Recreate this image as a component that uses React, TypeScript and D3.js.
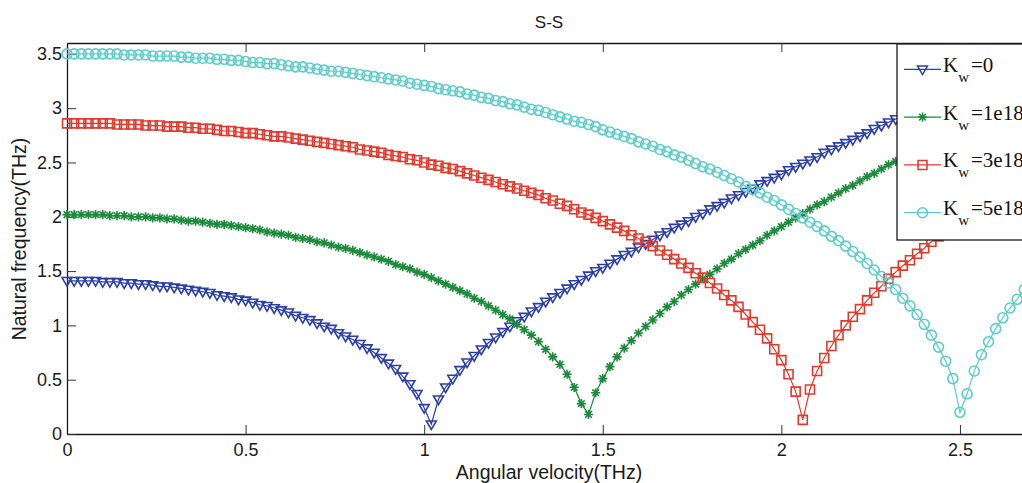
import React, { useEffect, useRef } from "react";
import * as d3 from "d3";

// angular velocity sampled every 0.02 THz starting at 0
const omegaStep = 0.02;

// natural frequency (THz), one array per Kw
const kw0 = [
  1.41, 1.41, 1.41, 1.41, 1.41, 1.40, 1.40, 1.40, 1.39, 1.39,
  1.38, 1.38, 1.37, 1.36, 1.36, 1.35, 1.34, 1.33, 1.32, 1.31,
  1.30, 1.28, 1.27, 1.26, 1.24, 1.23, 1.21, 1.19, 1.18, 1.16,
  1.14, 1.12, 1.09, 1.07, 1.05, 1.02, 0.99, 0.97, 0.93, 0.90,
  0.87, 0.83, 0.79, 0.75, 0.70, 0.65, 0.60, 0.53, 0.46, 0.37,
  0.24, 0.09, 0.32, 0.43, 0.51, 0.59, 0.66, 0.72, 0.78, 0.84,
  0.89, 0.94, 0.99, 1.04, 1.08, 1.13, 1.17, 1.22, 1.26, 1.30,
  1.34, 1.38, 1.42, 1.46, 1.50, 1.53, 1.57, 1.61, 1.65, 1.68,
  1.72, 1.75, 1.79, 1.83, 1.86, 1.90, 1.93, 1.96, 2.00, 2.03,
  2.07, 2.10, 2.13, 2.17, 2.20, 2.23, 2.26, 2.30, 2.33, 2.36,
  2.39, 2.43, 2.46, 2.49, 2.52, 2.55, 2.59, 2.62, 2.65, 2.68,
  2.71, 2.74, 2.77, 2.81, 2.84, 2.87, 2.90, 2.93, 2.96, 2.99,
  3.02,
];

const kw1e18 = [
  2.02, 2.02, 2.02, 2.02, 2.02, 2.02, 2.01, 2.01, 2.01, 2.00,
  2.00, 2.00, 1.99, 1.99, 1.98, 1.98, 1.97, 1.96, 1.96, 1.95,
  1.94, 1.93, 1.93, 1.92, 1.91, 1.90, 1.89, 1.88, 1.86, 1.85,
  1.84, 1.83, 1.81, 1.80, 1.79, 1.77, 1.76, 1.74, 1.72, 1.71,
  1.69, 1.67, 1.65, 1.63, 1.61, 1.59, 1.56, 1.54, 1.52, 1.49,
  1.47, 1.44, 1.41, 1.38, 1.35, 1.32, 1.29, 1.25, 1.22, 1.18,
  1.14, 1.10, 1.06, 1.01, 0.96, 0.91, 0.85, 0.78, 0.71, 0.64,
  0.55, 0.43, 0.28, 0.18, 0.38, 0.51, 0.62, 0.71, 0.79, 0.86,
  0.93, 0.99, 1.05, 1.11, 1.17, 1.22, 1.28, 1.33, 1.38, 1.43,
  1.47, 1.52, 1.57, 1.61, 1.66, 1.70, 1.74, 1.78, 1.83, 1.87,
  1.91, 1.95, 1.99, 2.03, 2.07, 2.11, 2.14, 2.18, 2.22, 2.26,
  2.29, 2.33, 2.37, 2.40, 2.44, 2.48, 2.51, 2.55, 2.58, 2.62,
  2.65, 2.69, 2.72, 2.76, 2.79, 2.83,
];

const kw3e18 = [
  2.86, 2.86, 2.86, 2.86, 2.86, 2.86, 2.86, 2.85, 2.85, 2.85,
  2.85, 2.84, 2.84, 2.84, 2.83, 2.83, 2.83, 2.82, 2.82, 2.81,
  2.81, 2.80, 2.79, 2.79, 2.78, 2.77, 2.77, 2.76, 2.75, 2.74,
  2.74, 2.73, 2.72, 2.71, 2.70, 2.69, 2.68, 2.67, 2.66, 2.65,
  2.64, 2.62, 2.61, 2.60, 2.59, 2.57, 2.56, 2.55, 2.53, 2.52,
  2.50, 2.48, 2.47, 2.45, 2.44, 2.42, 2.40, 2.38, 2.36, 2.34,
  2.32, 2.30, 2.28, 2.26, 2.24, 2.22, 2.20, 2.17, 2.15, 2.12,
  2.10, 2.07, 2.04, 2.02, 1.99, 1.96, 1.93, 1.90, 1.87, 1.83,
  1.80, 1.77, 1.73, 1.69, 1.65, 1.61, 1.57, 1.53, 1.48, 1.44,
  1.39, 1.34, 1.28, 1.23, 1.17, 1.10, 1.03, 0.96, 0.88, 0.78,
  0.68, 0.55, 0.39, 0.13, 0.41, 0.58, 0.70, 0.81, 0.91, 1.00,
  1.08, 1.15, 1.23, 1.30, 1.36, 1.43, 1.49, 1.55, 1.60, 1.66,
  1.71, 1.77, 1.82, 1.87, 1.92, 1.97, 2.02, 2.07, 2.11, 2.16,
  2.21, 2.25, 2.30, 2.34, 2.38,
];

const kw5e18 = [
  3.50, 3.50, 3.50, 3.50, 3.50, 3.50, 3.50, 3.50, 3.49, 3.49,
  3.49, 3.49, 3.48, 3.48, 3.48, 3.48, 3.47, 3.47, 3.46, 3.46,
  3.46, 3.45, 3.45, 3.44, 3.44, 3.43, 3.42, 3.42, 3.41, 3.41,
  3.40, 3.39, 3.38, 3.38, 3.37, 3.36, 3.35, 3.34, 3.34, 3.33,
  3.32, 3.31, 3.30, 3.29, 3.28, 3.27, 3.26, 3.25, 3.23, 3.22,
  3.21, 3.20, 3.18, 3.17, 3.16, 3.15, 3.13, 3.12, 3.10, 3.09,
  3.07, 3.06, 3.04, 3.03, 3.01, 2.99, 2.98, 2.96, 2.94, 2.92,
  2.90, 2.88, 2.87, 2.85, 2.83, 2.80, 2.78, 2.76, 2.74, 2.72,
  2.69, 2.67, 2.65, 2.62, 2.60, 2.57, 2.55, 2.52, 2.49, 2.46,
  2.44, 2.41, 2.38, 2.35, 2.32, 2.28, 2.25, 2.22, 2.18, 2.15,
  2.11, 2.07, 2.03, 1.99, 1.95, 1.91, 1.87, 1.82, 1.78, 1.73,
  1.68, 1.63, 1.57, 1.51, 1.45, 1.39, 1.33, 1.25, 1.18, 1.10,
  1.01, 0.91, 0.80, 0.67, 0.51, 0.20, 0.37, 0.58, 0.73, 0.85,
  0.97, 1.07, 1.16, 1.24, 1.33,
];

const seriesLabels = ["0", "1e18", "3e18", "5e18"];
const xTicks = [0, 0.5, 1, 1.5, 2, 2.5];
const yTicks = [0, 0.5, 1, 1.5, 2, 2.5, 3, 3.5];

const markerPaths: Record<string, string> = {
  triangle: "M-5,-3.3L5,-3.3L0,5.3Z",
  star: "M-4.6,0H4.6M0,-4.6V4.6M-3.3,-3.3L3.3,3.3M-3.3,3.3L3.3,-3.3",
  square: "M-4.5,-4.5H4.5V4.5H-4.5Z",
  circle: "M-5,0A5,5 0 1,0 5,0A5,5 0 1,0 -5,0Z",
};

const series = [
  { label: seriesLabels[0], color: "#2b3fa6", marker: "triangle", values: kw0 },
  { label: seriesLabels[1], color: "#1b8a3a", marker: "star", values: kw1e18 },
  { label: seriesLabels[2], color: "#e3392c", marker: "square", values: kw3e18 },
  { label: seriesLabels[3], color: "#5cccca", marker: "circle", values: kw5e18 },
];

const App = () => {
  const svgRef = useRef<SVGSVGElement>(null);

  useEffect(() => {
    const svg = d3.select(svgRef.current);
    svg.selectAll("*").remove();

    const left = 67;
    const right = 1031.4;
    const top = 43;
    const bottom = 434;
    const sans = "'Liberation Sans', Arial, Helvetica, sans-serif";

    const x = d3.scaleLinear().domain([0, 2.7]).range([left, right]);
    const y = d3.scaleLinear().domain([0, 3.6]).range([bottom, top]);

    // axes (ticks pointing inward, MATLAB style)
    const styleAxis = (g: any) => {
      g.attr("font-family", sans).attr("font-size", 18);
      g.select(".domain").attr("stroke", "#1a1a1a").attr("stroke-width", 1.3);
      g.selectAll(".tick line").attr("stroke", "#333").attr("stroke-width", 1);
      g.selectAll(".tick text").attr("fill", "#1a1a1a");
    };

    svg
      .append("g")
      .attr("transform", `translate(0,${bottom})`)
      .call(
        d3.axisBottom(x).tickValues(xTicks).tickFormat((d: any) => String(d))
          .tickSizeInner(-9).tickSizeOuter(0).tickPadding(9)
      )
      .call(styleAxis);

    svg
      .append("g")
      .attr("transform", `translate(0,${top})`)
      .call(
        d3.axisTop(x).tickValues(xTicks).tickFormat(() => "")
          .tickSizeInner(-9).tickSizeOuter(0)
      )
      .call(styleAxis);

    svg
      .append("g")
      .attr("transform", `translate(${left},0)`)
      .call(
        d3.axisLeft(y).tickValues(yTicks).tickFormat((d: any) => String(d))
          .tickSizeInner(-9).tickSizeOuter(0).tickPadding(5)
      )
      .call(styleAxis);

    // curves
    const line = d3
      .line<number>()
      .x((_, i) => x(i * omegaStep))
      .y((d) => y(d));

    series.forEach((s) => {
      const g = svg.append("g");
      g.append("path")
        .datum(s.values)
        .attr("fill", "none")
        .attr("stroke", s.color)
        .attr("stroke-width", 1.2)
        .attr("d", line);

      g.selectAll("path.m")
        .data(s.values)
        .enter()
        .append("path")
        .attr("class", "m")
        .attr("d", markerPaths[s.marker])
        .attr("transform", (d, i) => `translate(${x(i * omegaStep)},${y(d)})`)
        .attr("fill", "none")
        .attr("stroke", s.color)
        .attr("stroke-width", 1.6);
    });

    // legend
    const legend = svg.append("g");
    legend
      .append("rect")
      .attr("x", 897)
      .attr("y", 44)
      .attr("width", 132)
      .attr("height", 196)
      .attr("fill", "#fff")
      .attr("stroke", "#1a1a1a")
      .attr("stroke-width", 1.3);

    series.forEach((s, i) => {
      const ry = 69.3 + i * 47.8;
      const row = legend.append("g");
      row.append("line")
        .attr("x1", 904).attr("x2", 941)
        .attr("y1", ry).attr("y2", ry)
        .attr("stroke", s.color).attr("stroke-width", 1.3);
      row.append("path")
        .attr("d", markerPaths[s.marker])
        .attr("transform", `translate(922.5,${ry})`)
        .attr("fill", "none")
        .attr("stroke", s.color)
        .attr("stroke-width", 1.5);
      const t = row.append("text")
        .attr("x", 943)
        .attr("y", ry + 2.5)
        .attr("font-family", "'Liberation Serif', 'Times New Roman', serif")
        .attr("font-size", 21)
        .attr("fill", "#111");
      t.append("tspan").text("K");
      t.append("tspan").attr("font-size", 15).attr("dy", 10).text("w");
      t.append("tspan").attr("dy", -10).attr("dx", 2).text(`=${s.label}`);
    });

    // title and axis labels
    svg.append("text")
      .attr("x", 549).attr("y", 28)
      .attr("text-anchor", "middle")
      .attr("font-family", sans).attr("font-size", 17)
      .attr("fill", "#1a1a1a")
      .text("S-S");

    svg.append("text")
      .attr("x", 549).attr("y", 479)
      .attr("text-anchor", "middle")
      .attr("font-family", sans).attr("font-size", 19.5)
      .attr("fill", "#1a1a1a")
      .text("Angular velocity(THz)");

    svg.append("text")
      .attr("transform", "translate(26,239) rotate(-90)")
      .attr("text-anchor", "middle")
      .attr("font-family", sans).attr("font-size", 19.5)
      .attr("fill", "#1a1a1a")
      .text("Natural frequency(THz)");
  }, []);

  return (
    <svg
      ref={svgRef}
      width={1022}
      height={483}
      style={{ position: "absolute", left: 0, top: 0, background: "#fff" }}
    />
  );
};

export default App;
